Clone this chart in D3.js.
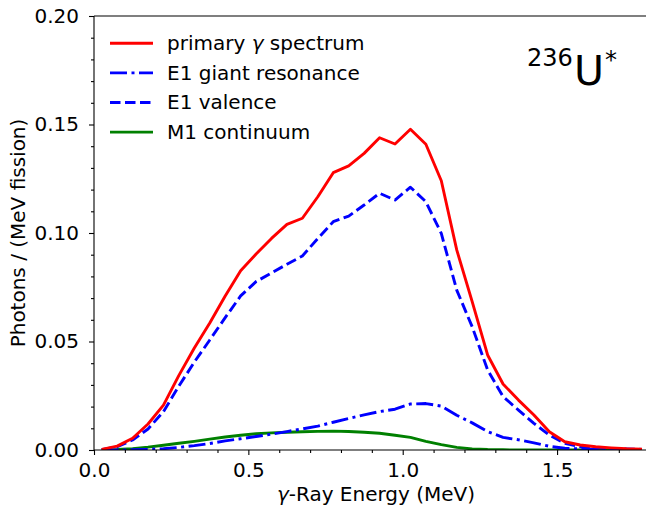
<!DOCTYPE html>
<html>
<head>
<meta charset="utf-8">
<script src="https://cdn.jsdelivr.net/npm/d3@7"></script>
<style>
  body { margin: 0; background: #fff; }
  text { font-family: "DejaVu Sans", sans-serif; fill: #000; }
</style>
</head>
<body>
<svg id="chart"></svg>
<script>
// bin centres (MeV)
const energy = d3.range(36).map(i => +(0.025 + 0.05 * i).toFixed(3));

const primary = [0.0003, 0.0018, 0.0054, 0.012, 0.0207, 0.0344, 0.047, 0.0585, 0.071, 0.0826,
  0.0903, 0.0975, 0.104, 0.1068, 0.1167, 0.1278, 0.1309, 0.1367, 0.1439, 0.141,
  0.1478, 0.1409, 0.1241, 0.0922, 0.0684, 0.0438, 0.0304, 0.023, 0.0161, 0.0084,
  0.0038, 0.0023, 0.0015, 0.001, 0.0006, 0.0004];

const giantRes = [0.0, 0.0, 0.0001, 0.0003, 0.0006, 0.0012, 0.002, 0.003, 0.0042, 0.0052,
  0.0062, 0.0073, 0.0085, 0.0097, 0.011, 0.0128, 0.0145, 0.0162, 0.0177, 0.0188,
  0.0212, 0.0214, 0.0202, 0.016, 0.0125, 0.0085, 0.0058, 0.0047, 0.0033, 0.0017,
  0.0008, 0.0005, 0.0003, 0.0002, 0.0001, 0.0001];

const valence = [0.0002, 0.0015, 0.0046, 0.0097, 0.0177, 0.0295, 0.0405, 0.0507, 0.061, 0.071,
  0.0776, 0.0816, 0.0856, 0.0894, 0.0975, 0.1052, 0.1078, 0.1129, 0.1183, 0.1152,
  0.1211, 0.1144, 0.0998, 0.0737, 0.0568, 0.0369, 0.0246, 0.0184, 0.0123, 0.0069,
  0.0031, 0.0015, 0.001, 0.0007, 0.0005, 0.0003];

const m1 = [0.0, 0.0002, 0.0006, 0.0013, 0.0022, 0.0031, 0.004, 0.005, 0.006, 0.0068,
  0.0075, 0.0079, 0.0082, 0.0084, 0.0086, 0.0087, 0.0085, 0.0082, 0.0077, 0.0068,
  0.0058, 0.004, 0.0025, 0.0012, 0.0005, 0.0002, 0.0001, 0.0, 0.0, 0.0,
  0.0, 0.0, 0.0, 0.0, 0.0, 0.0];

const xTicks = [0.0, 0.5, 1.0, 1.5];
const yTicks = [0.00, 0.05, 0.10, 0.15, 0.20];

const series = [
  { name: "primary", values: primary, color: "#ff0000", dash: null },
  { name: "E1 giant resonance", values: giantRes, color: "#0000ff", dash: "17,4.5,3,4.5" },
  { name: "E1 valence", values: valence, color: "#0000ff", dash: "10.5,4.5" },
  { name: "M1 continuum", values: m1, color: "#008000", dash: null }
];
// draw order: M1 first, then E1s, red on top
const drawOrder = [3, 1, 2, 0];

const width = 646, height = 510;
const svg = d3.select("#chart").attr("width", width).attr("height", height);

const x = d3.scaleLinear().domain([0, 1.825]).range([94, 657.4]);
const y = d3.scaleLinear().domain([0, 0.2]).range([450, 16]);

svg.append("defs").append("clipPath").attr("id", "clip")
  .append("rect").attr("x", 94).attr("y", 16).attr("width", 563.4).attr("height", 434);

const line = d3.line()
  .x((d, i) => x(energy[i]))
  .y(d => y(d));

const plot = svg.append("g").attr("clip-path", "url(#clip)");
drawOrder.forEach(k => {
  const s = series[k];
  plot.append("path")
    .datum(s.values)
    .attr("d", line)
    .attr("fill", "none")
    .attr("stroke", s.color)
    .attr("stroke-width", 2.9)
    .attr("stroke-linejoin", "round")
    .attr("stroke-dasharray", s.dash);
});

// axes
const xAxis = svg.append("g").attr("transform", "translate(0,450)")
  .call(d3.axisBottom(x).tickValues(xTicks).tickFormat(d3.format(".1f")).tickSize(5).tickPadding(8));
svg.append("g").attr("transform", "translate(0,450)")
  .call(d3.axisBottom(x).tickValues(d3.range(1, 18).map(i => i / 10).filter(v => v % 0.5 > 0.001 && v % 0.5 < 0.499)).tickFormat("").tickSize(3))
  .select(".domain").remove();

const yAxis = svg.append("g").attr("transform", "translate(94,0)")
  .call(d3.axisLeft(y).tickValues(yTicks).tickFormat(d3.format(".2f")).tickSize(5).tickPadding(10));
svg.append("g").attr("transform", "translate(94,0)")
  .call(d3.axisLeft(y).tickValues(d3.range(1, 20).filter(i => i % 5 !== 0).map(i => i / 100)).tickFormat("").tickSize(3))
  .select(".domain").remove();

svg.selectAll(".tick text").style("font-size", "20px").style("font-family", "DejaVu Sans");
svg.selectAll(".domain, .tick line").attr("stroke", "#000").attr("stroke-width", 1.1);
xAxis.select(".domain").attr("d", "M94,0H660");
yAxis.select(".domain").attr("d", "M0,450V16");

// top spine
svg.append("line").attr("x1", 94).attr("x2", 660).attr("y1", 16).attr("y2", 16)
  .attr("stroke", "#000").attr("stroke-width", 1.1);

// axis labels
const xl = svg.append("text").attr("x", 376).attr("y", 501)
  .attr("text-anchor", "middle").style("font-size", "20px");
xl.append("tspan").style("font-style", "italic").text("γ");
xl.append("tspan").text("-Ray Energy (MeV)");

svg.append("text")
  .attr("transform", "translate(25,233) rotate(-90)")
  .attr("text-anchor", "middle").style("font-size", "20px")
  .text("Photons / (MeV fission)");

// legend
const legendLabels = [["primary ", "γ", " spectrum"], ["E1 giant resonance"], ["E1 valence"], ["M1 continuum"]];
const legend = svg.append("g");
series.forEach((s, i) => {
  const ly = 43.3 + i * 29.6;
  legend.append("line")
    .attr("x1", 110).attr("x2", 153).attr("y1", ly).attr("y2", ly)
    .attr("stroke", s.color).attr("stroke-width", 2.9)
    .attr("stroke-dasharray", s.dash);
  const t = legend.append("text").attr("x", 167).attr("y", ly + 6.8).style("font-size", "20px");
  legendLabels[i].forEach((part, j) => {
    t.append("tspan").style("font-style", j === 1 ? "italic" : "normal").text(part);
  });
});

// nucleus annotation
svg.append("text").attr("x", 527).attr("y", 66).style("font-size", "24px").text("236");
svg.append("text").attr("x", 574).attr("y", 85).style("font-size", "41px").text("U");
svg.append("text").attr("x", 605).attr("y", 68).style("font-size", "24px").text("*");
</script>
</body>
</html>
